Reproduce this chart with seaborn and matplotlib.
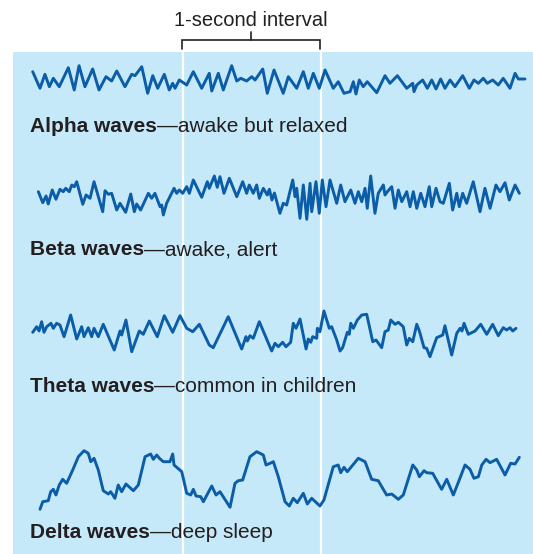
import numpy as np
import pandas as pd
import matplotlib
matplotlib.use("Agg")
import matplotlib.pyplot as plt
from matplotlib.patches import Rectangle
import seaborn as sns

# EEG traces: time in seconds (0 = start of the marked
# 1-second interval), amplitude in arbitrary units (positive = up)
alpha_t = [-1.093, -1.040, -1.004, -0.972, -0.943, -0.900, -0.834, -0.791, -0.756, -0.713,
           -0.657, -0.611, -0.560, -0.519, -0.482, -0.422, -0.373, -0.349, -0.300, -0.257,
           -0.220, -0.184, -0.136, -0.100, -0.075, -0.058, -0.027, 0.027, 0.075, 0.136,
           0.191, 0.209, 0.257, 0.293, 0.354, 0.391, 0.420, 0.463, 0.500, 0.524,
           0.580, 0.613, 0.662, 0.729, 0.766, 0.827, 0.875, 0.911, 0.948, 0.991,
           1.033, 1.093, 1.129, 1.171, 1.215, 1.239, 1.258, 1.282, 1.311, 1.340,
           1.409, 1.469, 1.505, 1.559, 1.627, 1.671, 1.680, 1.700, 1.743, 1.777,
           1.809, 1.840, 1.874, 1.905, 1.942, 1.978, 2.034, 2.082, 2.116, 2.148,
           2.184, 2.213, 2.252, 2.293, 2.329, 2.378, 2.415, 2.439, 2.487]
alpha_v = [8.3, -8.3, 5.7, -6.7, 1.7, -6.7, 12.3, -10, 14.3, -6.7,
           11, -10, 3.3, -1, 9, -6.7, 5.7, 4.3, 13.3, -13.3,
           4.3, -8.3, 5.7, -10, -3.3, -8.3, 0, -5, 8.3, -8.3,
           6.7, -11, 6.7, -10, 14.3, -1, 1.7, -1, 3.3, 0,
           11, -13.3, 10, -13.3, 3.3, -8.3, 8.3, -8.3, 6.7, -8.3,
           10, -8.3, -1.7, -13.3, -11.7, -1.7, -14, 0, -6.7, -1.7,
           -12.7, 4.3, -3.3, 4.3, -8.3, -3.3, -11.7, -5, 0, -8.3,
           0, -9, 1, -8.3, 0, -6.7, 4.3, -8.3, 0, -3.3,
           1.7, -3.3, 0, -5, 1.7, -8.3, 6.7, 1, 1]

beta_t = [-1.052, -1.020, -0.996, -0.980, -0.951, -0.924, -0.895, -0.871, -0.853, -0.827,
          -0.809, -0.791, -0.773, -0.729, -0.705, -0.676, -0.647, -0.584, -0.567, -0.543,
          -0.519, -0.482, -0.458, -0.417, -0.380, -0.354, -0.337, -0.308, -0.252, -0.228,
          -0.204, -0.167, -0.155, -0.143, -0.119, -0.065, -0.046, -0.027, -0.002, 0.027,
          0.046, 0.075, 0.136, 0.177, 0.191, 0.228, 0.249, 0.269, 0.298, 0.337,
          0.391, 0.434, 0.463, 0.482, 0.511, 0.536, 0.555, 0.584, 0.613, 0.628,
          0.647, 0.665, 0.705, 0.729, 0.754, 0.798, 0.815, 0.827, 0.851, 0.875,
          0.900, 0.924, 0.936, 0.967, 0.991, 1.013, 1.040, 1.069, 1.118, 1.147,
          1.178, 1.220, 1.251, 1.275, 1.300, 1.324, 1.340, 1.365, 1.396, 1.420,
          1.457, 1.469, 1.486, 1.518, 1.542, 1.566, 1.591, 1.627, 1.651, 1.675,
          1.700, 1.729, 1.760, 1.791, 1.809, 1.840, 1.869, 1.893, 1.937, 1.961,
          1.991, 2.009, 2.034, 2.063, 2.111, 2.160, 2.196, 2.233, 2.276, 2.305,
          2.342, 2.373, 2.415, 2.446]
beta_v = [3.3, -7.7, -1, -9, 5, -4.3, 5.7, 3.3, 6.7, 3.3,
          10, 8.3, 13.3, -9.3, 0, -3.3, 13.3, -16.7, 4.3, 0.7,
          1.7, -15, -8.3, -17.3, 1, -16.7, -9, -15, 1.7, -3.3,
          1.7, -11.7, -10, -20, -8.3, 6.7, 1.7, 5, 1.7, 8.3,
          1.7, 15, -2.3, 13.3, 6.7, 19, 7.7, 18.3, 1.7, 16.7,
          -1.7, 13.3, 1.7, 10, 1.7, 10, -3.3, 6.7, 0, 5.7,
          -5, 2, -18.3, -8.3, -10, 15, -1.7, 6.7, -23.3, 10,
          -24.3, 11.7, -16.7, 13.3, -18.3, 15, -11.7, 15, -8.3, 10,
          -6.7, 5, -8.3, 3.3, -6.7, 6.7, -13.3, 19, -18.3, 1.7,
          10, 0, 3.3, 8.3, -13.3, 5, -6.7, 3.3, -11.7, 3.3,
          -13.3, 1.7, -11.7, 8.3, -11.7, 6.7, -6.7, -8.3, 11.7, -15,
          1.7, -11.7, 1.7, -8.3, 13.3, -16.7, 6.7, -13.3, 10, 3.3,
          12.3, -5, 10, 1.7]

theta_t = [-1.093, -1.064, -1.047, -1.028, -1.011, -0.991, -0.960, -0.943, -0.919, -0.895,
           -0.865, -0.817, -0.773, -0.737, -0.720, -0.689, -0.664, -0.647, -0.616, -0.580,
           -0.500, -0.458, -0.446, -0.415, -0.373, -0.318, -0.289, -0.245, -0.187, -0.136,
           -0.075, -0.022, 0.027, 0.071, 0.119, 0.191, 0.220, 0.329, 0.427, 0.458,
           0.468, 0.487, 0.511, 0.555, 0.645, 0.669, 0.693, 0.725, 0.749, 0.783,
           0.802, 0.822, 0.851, 0.895, 0.911, 0.929, 0.943, 0.972, 0.977, 0.996,
           1.025, 1.064, 1.081, 1.118, 1.142, 1.161, 1.195, 1.209, 1.220, 1.239,
           1.268, 1.300, 1.336, 1.380, 1.404, 1.445, 1.469, 1.493, 1.511, 1.542,
           1.566, 1.602, 1.627, 1.646, 1.671, 1.700, 1.719, 1.753, 1.772, 1.796,
           1.845, 1.889, 1.905, 1.954, 1.991, 2.015, 2.029, 2.044, 2.075, 2.124,
           2.165, 2.209, 2.252, 2.293, 2.329, 2.354, 2.378, 2.398, 2.422]
theta_v = [0.7, 6.3, 2, 11.3, 0.7, 6.3, 9.7, 4.7, 9.7, 8,
           -3.7, 18, -6, 6.3, -3.7, 5.3, -3.7, 4.7, -3.7, 8.7,
           -17, 2, -2, 13, -18.7, 2, -1.3, 12, -3.7, 17.3,
           0.7, 17.3, 4.7, 1.3, 8.7, -12, -14.7, 16.3, -16, -3.7,
           -8, -2.7, -5.3, 11.3, -18, -10.3, -13.7, -9.3, -13.7, -9.3,
           9.7, 4.7, 14, -16, -6, -9.3, -3.7, -5.3, 4.7, 1.3,
           22, 4.7, 6.3, -7, -18, -14.7, 0.7, -1.3, 9.7, 4.7,
           13, 18, 18.7, -8.7, -7, -14.7, 1.3, 3, 13, 8.7,
           10.7, 6.3, -12, -5.3, -8.7, 8.7, 2, -14.7, -15.3, -23.7,
           -4.7, -2, 7.3, -22, -0.3, 4.7, 2, 9.7, -1.3, 2,
           8.7, -1.3, 8.7, -2.7, 5.3, 3, 5.3, 2, 4.7]

delta_t = [-1.040, -1.020, -0.980, -0.962, -0.943, -0.924, -0.900, -0.875, -0.846, -0.802,
           -0.761, -0.720, -0.689, -0.671, -0.647, -0.616, -0.580, -0.543, -0.526, -0.495,
           -0.471, -0.446, -0.415, -0.361, -0.325, -0.276, -0.235, -0.216, -0.191, -0.172,
           -0.143, -0.095, -0.075, -0.065, -0.009, 0.027, 0.056, 0.075, 0.095, 0.129,
           0.148, 0.209, 0.240, 0.269, 0.342, 0.378, 0.402, 0.434, 0.487, 0.536,
           0.584, 0.604, 0.633, 0.657, 0.693, 0.742, 0.773, 0.802, 0.831, 0.875,
           0.904, 0.936, 0.996, 1.025, 1.093, 1.129, 1.147, 1.171, 1.195, 1.275,
           1.324, 1.372, 1.420, 1.481, 1.518, 1.566, 1.602, 1.671, 1.700, 1.719,
           1.753, 1.772, 1.816, 1.881, 1.918, 1.966, 2.009, 2.051, 2.087, 2.116,
           2.148, 2.173, 2.204, 2.233, 2.281, 2.342, 2.383, 2.415, 2.446]
delta_v = [-29.3, -21.7, -20.7, -11.7, -9.3, -15, -5, 0.7, -3.3, 10,
           23.3, 29.3, 26.7, 18.3, 21.7, 10, -10.7, -14, -11.7, -18.3,
           -5, -11.7, -4, -10.7, -5, 23.3, 26, 20.7, 25, 21.7,
           18.3, 18.3, 26, 15, 8.3, -13.3, -15, -9.3, -16, -16.7,
           -21.7, -6, -15, -11.7, -27.3, -3.3, -0.7, 0, 23.3, 28.3,
           25, 15, 16.7, 18.3, 3.3, -21.7, -26, -18.3, -22.7, -13.3,
           -24, -18.3, -26, -20, 13.3, 15, 7.3, 12.7, 8.3, 21.7,
           18.3, 0.7, -0.7, -15, -14, -19.3, -15, 15, 10, 3.3,
           9.3, 7.3, 6.7, -9.3, 0.7, -15, 0, 15, 10.7, 1.7,
           3.3, 15, 20.7, 17.3, 20.7, 5, 16.7, 16, 22.7]

wave_names = ["Alpha waves", "Beta waves", "Theta waves", "Delta waves"]
wave_notes = ["\u2014awake but relaxed", "\u2014awake, alert",
              "\u2014common in children", "\u2014deep sleep"]

sns.set_style("white")
plt.rcParams["font.family"] = ["Liberation Sans", "DejaVu Sans"]

BLUE = "#0b5da8"
BG = "#c6e9f9"
INK = "#231f20"

fig = plt.figure(figsize=(5.33, 5.54), dpi=100)
ax = fig.add_axes([0, 0, 1, 1])

# panel + 1 s marker lines
ax.add_patch(Rectangle((-1.236, 52), 4.0, 510, facecolor=BG, edgecolor="none", zorder=0))
ax.vlines([0, 1], 52, 554, color="white", lw=1.6, zorder=1)

# bracket
ax.plot([-0.005, -0.005, 0.995, 0.995], [49, 40, 40, 49], color=INK, lw=1.2,
        solid_joinstyle="miter", zorder=3)
ax.plot([0.495, 0.495], [40, 32], color=INK, lw=1.2, zorder=3)
ax.text(0.495, 26.5, "1-second interval", ha="center", va="baseline",
        fontsize=14.5, color=INK)

waves = [(alpha_t, alpha_v, 80), (beta_t, beta_v, 195),
         (theta_t, theta_v, 333), (delta_t, delta_v, 480)]
for t, v, base in waves:
    df = pd.DataFrame({"t": t, "y": base - np.array(v)})
    sns.lineplot(data=df, x="t", y="y", sort=False, estimator=None, ax=ax,
                 color=BLUE, lw=2.1, zorder=4)
ax.set_xlim(-183 / 137.5, 350 / 137.5)
ax.set_ylim(554, 0)
ax.axis("off")

label_y = [132.5, 255, 391.7, 538.3]
x0 = (30 - 183) / 137.5
fig.canvas.draw()
r = fig.canvas.get_renderer()
for name, note, yb in zip(wave_names, wave_notes, label_y):
    bold = ax.text(x0, yb, name, fontsize=15, fontweight="bold", color=INK,
                   va="baseline", zorder=5)
    bb = bold.get_window_extent(renderer=r)
    x1 = ax.transData.inverted().transform((bb.x1, 0))[0]
    ax.text(x1, yb, note, fontsize=15, color=INK, va="baseline", zorder=5)

fig.savefig("out.png", dpi=100)
